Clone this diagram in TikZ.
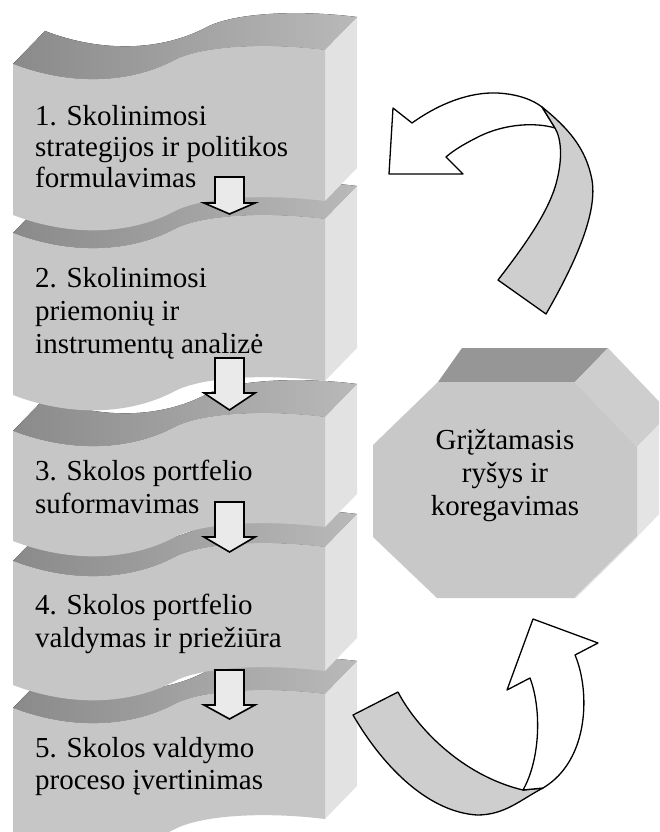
\documentclass[tikz,border=0pt]{standalone}
\usepackage{fontspec}
\setmainfont{Liberation Serif}
\definecolor{frontgray}{RGB}{198,198,198}
\definecolor{sidegray}{RGB}{226,226,226}
\definecolor{topdark}{RGB}{138,138,138}
\definecolor{toplight}{RGB}{185,185,185}
\definecolor{arrowfill}{RGB}{234,234,234}
\definecolor{ribbon}{RGB}{206,206,206}
\definecolor{octfront}{RGB}{200,200,200}
\definecolor{octtop}{RGB}{150,150,150}
\definecolor{octdiag}{RGB}{206,206,206}
\definecolor{octside}{RGB}{228,228,228}
\tikzset{
  frontface/.style={fill=frontgray},
  rightface/.style={fill=sidegray},
  topface/.style={left color=topdark,right color=toplight},
  downarrow/.style={fill=arrowfill,draw=black,line width=1.6pt,line join=miter},
  curvearrow/.style={fill=white,draw=black,line width=1.3pt,line join=round},
  ribbonpart/.style={fill=ribbon,draw=black,line width=1.3pt,line join=round},
  blocktext/.style={font=\fontsize{29}{33}\selectfont,anchor=base west,inner sep=0pt},
  octtext/.style={font=\fontsize{29}{33}\selectfont,anchor=base,inner sep=0pt},
}
% wave block: #1 = top-left y of front face, #2 = bottom-left y
\newcommand\wblock[2]{%
  \fill[topface] (13,#1) .. controls (70,#1+22) and (130,#1+20) .. (175,#1-4)
     .. controls (200,#1-17) and (260,#1-22) .. (325,#1-14)
     -- (357,#1-47) .. controls (292,#1-55) and (232,#1-50) .. (207,#1-37)
     .. controls (162,#1-13) and (102,#1-11) .. (45,#1-33) -- cycle;
  \fill[rightface] (325,#1-14) -- (357,#1-47) -- (357,#2-47) -- (325,#2-14) -- cycle;
  \fill[frontface] (13,#1) .. controls (70,#1+22) and (130,#1+20) .. (175,#1-4)
     .. controls (200,#1-17) and (260,#1-22) .. (325,#1-14)
     -- (325,#2-14) .. controls (260,#2-22) and (200,#2-17) .. (175,#2-4)
     .. controls (130,#2+20) and (70,#2+22) .. (13,#2) -- cycle;
}
% down block arrow: #1 top, #2 wing y, #3 tip y
\newcommand\dnarrow[3]{%
  \filldraw[downarrow] (215,#1) -- (244,#1) -- (244,#2) -- (255,#2) -- (229.5,#3)
     -- (204,#2) -- (215,#2) -- cycle;
}
\begin{document}
\begin{tikzpicture}[x=1pt,y=-1pt]
\useasboundingbox (0,0) rectangle (659,832);
\clip (0,0) rectangle (659,832);
% blocks, lowest first
\wblock{708}{833}
\wblock{561}{685}
\wblock{431}{541}
\wblock{233}{395}
\wblock{64}{215}
% texts
\node[blocktext] (b1a) at (35,125) {1. Skolinimosi};
\node[blocktext] (b1b) at (35,157) {strategijos ir politikos};
\node[blocktext] (b1c) at (35,187) {formulavimas};
\node[blocktext] (b2a) at (35,287) {2. Skolinimosi};
\node[blocktext] (b2b) at (35,320) {priemonių ir};
\node[blocktext] (b2c) at (35,353) {instrumentų analizė};
\node[blocktext] (b3a) at (35,480) {3. Skolos portfelio};
\node[blocktext] (b3b) at (35,513) {suformavimas};
\node[blocktext] (b4a) at (35,614) {4. Skolos portfelio};
\node[blocktext] (b4b) at (35,647) {valdymas ir priežiūra};
\node[blocktext] (b5a) at (35,757) {5. Skolos valdymo};
\node[blocktext] (b5b) at (35,789) {proceso įvertinimas};
% down arrows
\dnarrow{177}{203}{214}
\dnarrow{358}{393}{410}
\dnarrow{502}{537}{552}
\dnarrow{670}{705}{719}
% octagon
\fill[octtop] (438,382) -- (462,348) -- (608,348) -- (575,382) -- cycle;
\fill[octdiag] (575,382) -- (608,348) -- (670,413) -- (637,447) -- cycle;
\fill[octside] (637,447) -- (670,413) -- (670,503) -- (637,537) -- cycle;
\fill[octfront] (438,382) -- (575,382) -- (637,447) -- (637,537) -- (575,598)
   -- (437,598) -- (373,537) -- (373,445) -- cycle;
\draw[octside, line width=1.2pt] (575,598) -- (637,537);
\node[octtext] (g1) at (505,449) {Grįžtamasis};
\node[octtext] (g2) at (505,482) {ryšys ir};
\node[octtext] (g3) at (505,515) {koregavimas};
% top curved arrow
\filldraw[curvearrow] (389,174) -- (393,108) -- (412,123)
   .. controls (440,103) and (470,92) .. (497,93)
   .. controls (518,94) and (533,100) .. (542,107) -- (555,128)
   .. controls (535,122) and (505,124) .. (480,136)
   .. controls (468,142) and (455,149) .. (446,157) -- (463,174) -- cycle;
\filldraw[ribbonpart] (542,107) .. controls (568,128) and (586,148) .. (592,180)
   .. controls (597,210) and (580,255) .. (546,314) -- (498,280)
   .. controls (525,245) and (550,210) .. (557,180)
   .. controls (562,160) and (562,140) .. (555,128) -- cycle;
% bottom curved arrow
\filldraw[ribbonpart] (353,715) -- (398,692) .. controls (415,725) and (460,775) .. (523,790)
   -- (543,788) .. controls (520,800) and (505,815) .. (477,815)
   .. controls (430,812) and (385,770) .. (353,715) -- cycle;
\filldraw[curvearrow] (523,790) .. controls (540,760) and (542,710) .. (530,678)
   -- (507,690) -- (533,619) -- (598,643) -- (575,655)
   .. controls (590,690) and (590,760) .. (543,788) -- cycle;
\end{tikzpicture}
\end{document}
